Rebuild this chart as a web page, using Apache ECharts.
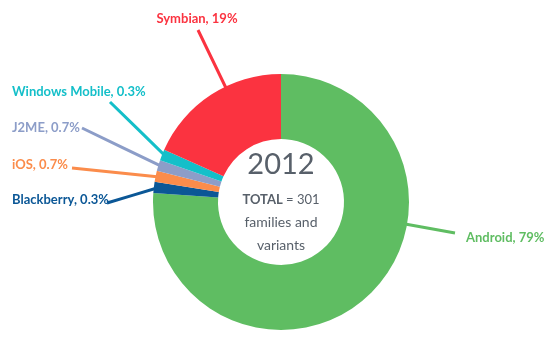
<!DOCTYPE html>
<html>
<head>
<meta charset="utf-8">
<script src="https://cdn.jsdelivr.net/npm/echarts@6/dist/echarts.min.js"></script>
<style>
html,body{margin:0;padding:0;background:#fff;}
#c{width:548px;height:346px;}
</style>
</head>
<body>
<div id="c"></div>
<script>
const categories = ['Android', 'Blackberry', 'iOS', 'J2ME', 'Windows Mobile', 'Symbian'];
const shares = [79, 0.3, 0.7, 0.7, 0.3, 19];
const colors = ['#5fbd62', '#0b5796', '#fb8c4b', '#8c9dc8', '#14bfc9', '#fb3340'];
const centerYear = '2012';
const centerTotal = 301;

// label anchor positions and leader-line ends near the label (layout only), same order as categories
const labelPos = [
  {x: 466, y: 238, align: 'left', lx: 455, ly: 233},
  {x: 12, y: 200, align: 'left', lx: 107, ly: 203},
  {x: 12, y: 165, align: 'left', lx: 72, ly: 168},
  {x: 12, y: 128, align: 'left', lx: 82, ly: 128},
  {x: 12, y: 92, align: 'left', lx: 110, ly: 102},
  {x: 197, y: 19, align: 'center', lx: 198, ly: 30}
];
const CX = 281, CY = 202, R_IN = 63, R_OUT = 128;

const chart = echarts.init(document.getElementById('c'), null, {renderer: 'canvas'});
const data = categories.map((n, i) => ({name: n, value: shares[i], itemStyle: {color: colors[i]}}));

chart.setOption({
  animation: false,
  backgroundColor: '#fff',
  series: [{
    type: 'pie',
    center: [CX, CY],
    radius: [R_IN, R_OUT],
    startAngle: 90,
    clockwise: true,
    minAngle: 5,
    avoidLabelOverlap: false,
    data: data,
    label: {
      show: true,
      formatter: '{b}, {c}%',
      fontFamily: 'Lato',
      fontWeight: 'bold',
      fontSize: 13,
      color: 'inherit'
    },
    labelLine: {
      show: true,
      length: 20,
      length2: 10,
      smooth: false,
      lineStyle: {width: 3}
    },
    labelLayout: function (p) {
      const pos = labelPos[p.dataIndex];
      if (!pos) return {};
      const out = {x: pos.x, y: pos.y, align: pos.align, verticalAlign: 'middle'};
      const pts = p.labelLinePoints;
      if (pts && pts[0]) {
        let sx, sy;
        if (shares[p.dataIndex] > 5) {
          // large slice: attach on the outer rim in the direction of the label
          const dx = pos.lx - CX, dy = pos.ly - CY, d = Math.sqrt(dx * dx + dy * dy) || 1;
          sx = CX + dx / d * (R_OUT - 2); sy = CY + dy / d * (R_OUT - 2);
        } else {
          sx = pts[0][0]; sy = pts[0][1];
          const dx = sx - CX, dy = sy - CY, d = Math.sqrt(dx * dx + dy * dy) || 1;
          sx -= dx / d * 4; sy -= dy / d * 4;
        }
        out.labelLinePoints = [[sx, sy], [(sx + pos.lx) / 2, (sy + pos.ly) / 2], [pos.lx, pos.ly]];
      }
      return out;
    },
    emphasis: {disabled: true}
  }],
  graphic: [
    {type: 'text', style: {text: centerYear, x: 281, y: 165, align: 'center', verticalAlign: 'middle', fontFamily: 'Lato', fontSize: 29, fill: '#58606a'}},
    {type: 'text', style: {text: '{b|TOTAL} = ' + centerTotal, x: 281, y: 200, align: 'center', verticalAlign: 'middle', fontFamily: 'Lato', fontSize: 13, fill: '#58606a',
      rich: {b: {fontFamily: 'Lato', fontWeight: 'bold', fontSize: 13, fill: '#58606a'}}}},
    {type: 'text', style: {text: 'families and', x: 281, y: 222, align: 'center', verticalAlign: 'middle', fontFamily: 'Lato', fontSize: 14, fill: '#58606a'}},
    {type: 'text', style: {text: 'variants', x: 281, y: 245, align: 'center', verticalAlign: 'middle', fontFamily: 'Lato', fontSize: 14, fill: '#58606a'}}
  ]
});
</script>
</body>
</html>
